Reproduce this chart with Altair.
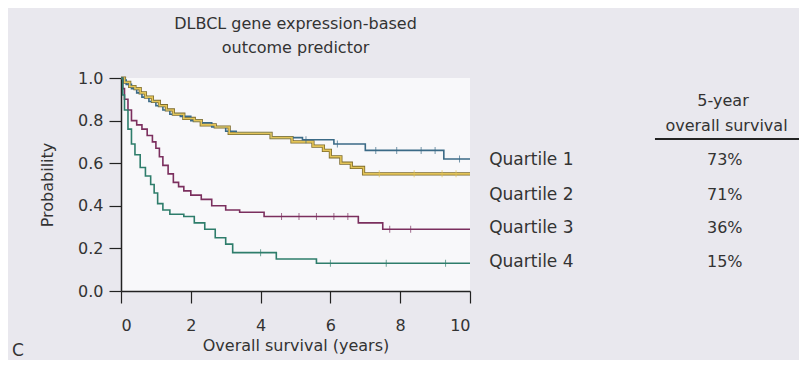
import altair as alt
import pandas as pd

groups = ["Quartile 1", "Quartile 2", "Quartile 3", "Quartile 4"]
five_year = ["73%", "71%", "36%", "15%"]
line_colors = ["#3b6a86", "#e3c458", "#7b2f5e", "#2e7d6b"]

q1_t = [0, 0.05, 0.15, 0.3, 0.45, 0.6, 0.8, 1.0, 1.2, 1.4, 1.7, 2.0, 2.3, 2.6, 3.0, 3.3, 4.3, 5.2, 6.1, 7.0, 9.25, 10]
q1_s = [1.0, 0.99, 0.97, 0.95, 0.93, 0.91, 0.89, 0.87, 0.85, 0.83, 0.82, 0.80, 0.79, 0.77, 0.75, 0.74, 0.72, 0.71, 0.69, 0.66, 0.62, 0.62]

q2_t = [0, 0.1, 0.25, 0.4, 0.55, 0.7, 0.9, 1.1, 1.3, 1.5, 1.8, 2.1, 2.3, 2.7, 3.1, 4.3, 4.9, 5.5, 5.8, 6.0, 6.3, 6.6, 6.95, 10]
q2_s = [1.0, 0.98, 0.96, 0.95, 0.93, 0.91, 0.89, 0.87, 0.85, 0.83, 0.81, 0.80, 0.78, 0.77, 0.74, 0.72, 0.70, 0.68, 0.66, 0.63, 0.60, 0.58, 0.55, 0.55]

q3_t = [0, 0.05, 0.1, 0.2, 0.3, 0.45, 0.6, 0.75, 0.9, 1.0, 1.1, 1.2, 1.35, 1.5, 1.65, 1.8, 2.0, 2.3, 2.6, 3.0, 3.4, 4.1, 6.8, 7.5, 10]
q3_s = [1.0, 0.95, 0.90, 0.85, 0.80, 0.78, 0.76, 0.73, 0.70, 0.67, 0.63, 0.59, 0.55, 0.51, 0.49, 0.47, 0.45, 0.43, 0.40, 0.38, 0.37, 0.35, 0.32, 0.29, 0.29]

q4_t = [0, 0.05, 0.1, 0.2, 0.3, 0.4, 0.55, 0.7, 0.85, 0.95, 1.05, 1.2, 1.4, 1.8, 2.1, 2.4, 2.7, 3.0, 3.2, 4.45, 5.6, 10]
q4_s = [1.0, 0.92, 0.85, 0.76, 0.69, 0.64, 0.58, 0.54, 0.50, 0.46, 0.41, 0.38, 0.36, 0.35, 0.32, 0.29, 0.25, 0.22, 0.18, 0.15, 0.13, 0.13]

q1_cens = [5.3, 6.2, 7.3, 7.9, 8.6, 9.0, 9.7]
q2_cens = [7.4, 8.4, 9.2, 9.6]
q3_cens = [4.6, 5.1, 5.6, 6.1, 6.5, 7.7, 8.3]
q4_cens = [4.0, 6.0, 7.6, 9.3]

label_y = [0.615, 0.45, 0.296, 0.136]
header_text = ["5-year", "overall survival"]
header_y = [0.892, 0.775]

FONT = "DejaVu Sans"
TXT = "#333333"

series = [(q1_t, q1_s, q1_cens), (q2_t, q2_s, q2_cens), (q3_t, q3_s, q3_cens), (q4_t, q4_s, q4_cens)]


def step_value(ts, ss, x):
    v = ss[0]
    for ti, si in zip(ts, ss):
        if ti <= x:
            v = si
    return v


rows, crow = [], []
for g, (ts, ss, cs) in zip(groups, series):
    for ti, si in zip(ts, ss):
        rows.append({"group": g, "t": ti, "s": si})
    for c in cs:
        crow.append({"group": g, "t": c, "s": step_value(ts, ss, c)})
curves = pd.DataFrame(rows)
censors = pd.DataFrame(crow)

xs = alt.Scale(domain=[0, 10], nice=False, zero=False)
ys = alt.Scale(domain=[0, 1], nice=False, zero=False)
cs = alt.Scale(domain=groups, range=line_colors)

x_enc = alt.X("t:Q", scale=xs, axis=alt.Axis(values=[0, 2, 4, 6, 8, 10], title="Overall survival (years)",
                                              format="d", tickSize=12, labelPadding=14, titlePadding=4))
y_enc = alt.Y("s:Q", scale=ys, axis=alt.Axis(values=[0, 0.2, 0.4, 0.6, 0.8, 1.0], format=".1f", title="Probability",
                                              tickSize=12, labelPadding=6, titlePadding=22))

outline = alt.Chart(curves[curves.group == "Quartile 2"]).mark_line(
    interpolate="step-after", strokeWidth=3.2, color="#7d6b2c"
).encode(x=x_enc, y=y_enc)

lines = alt.Chart(curves).mark_line(interpolate="step-after", strokeWidth=1.6).encode(
    x=x_enc, y=y_enc, color=alt.Color("group:N", scale=cs, legend=None), detail="group:N"
)

ticks = alt.Chart(censors).mark_tick(orient="vertical", size=7, thickness=1).encode(
    x=x_enc, y=y_enc, color=alt.Color("group:N", scale=cs, legend=None)
)

lab_df = pd.DataFrame({"t": [10.55] * 4, "s": label_y, "label": groups})
pct_df = pd.DataFrame({"t": [17.3] * 4, "s": label_y, "label": five_year})
qlabels = alt.Chart(lab_df).mark_text(align="left", baseline="middle", font=FONT, fontSize=17, color=TXT).encode(
    x=x_enc, y=y_enc, text="label:N")
pct = alt.Chart(pct_df).mark_text(align="center", baseline="middle", font=FONT, fontSize=16, color=TXT).encode(
    x=x_enc, y=y_enc, text="label:N")

hdr_df = pd.DataFrame({"t": [17.25, 17.35], "s": header_y, "label": header_text})
hdr = alt.Chart(hdr_df).mark_text(align="center", baseline="middle", font=FONT, fontSize=16, color=TXT).encode(
    x=x_enc, y=y_enc, text="label:N")

ul_df = pd.DataFrame({"t": [15.3], "t2": [19.45], "s": [0.714]})
underline = alt.Chart(ul_df).mark_rule(color="#222222", strokeWidth=2).encode(
    x=x_enc, x2="t2:Q", y=y_enc)

c_df = pd.DataFrame({"t": [-2.95], "s": [-0.28], "label": ["C"]})
cl = alt.Chart(c_df).mark_text(align="center", baseline="middle", font=FONT, fontSize=17, color=TXT).encode(
    x=x_enc, y=y_enc, text="label:N")

chart = alt.layer(outline, lines, ticks, qlabels, pct, hdr, underline, cl).properties(
    width=349, height=213,
    title=alt.TitleParams(["DLBCL gene expression-based", "outcome predictor"], font=FONT, fontSize=16,
                          fontWeight="normal", color=TXT, lineHeight=24, frame="group", anchor="middle", offset=14),
    autosize=alt.AutoSizeParams(type="none"),
    padding={"left": 113, "top": 70, "right": 329, "bottom": 69},
    background="#e9e8ee",
).configure_view(fill="#f8f8fa", strokeWidth=0).configure_axis(
    grid=False, domainColor="#222222", tickColor="#222222", domainWidth=1.5, tickWidth=1.2,
    labelFont=FONT, labelFontSize=16, labelColor=TXT, titleFont=FONT, titleFontSize=16,
    titleFontWeight="normal", titleColor=TXT
)

chart.save("out.html", embed_options={"renderer": "svg", "actions": False})
